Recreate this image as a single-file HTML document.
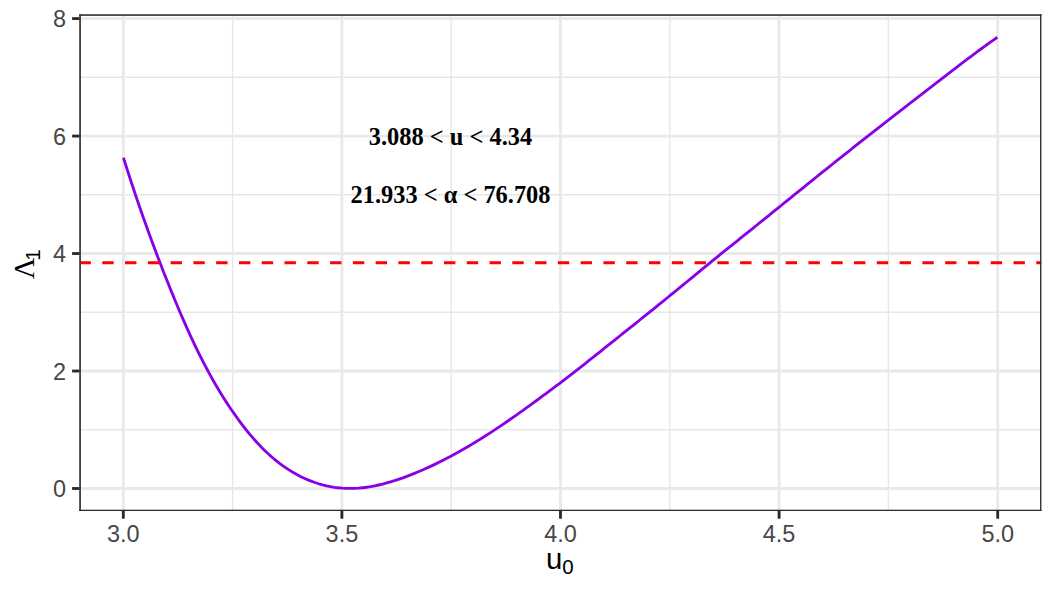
<!DOCTYPE html>
<html><head><meta charset="utf-8"><title>plot</title><style>html,body{margin:0;padding:0;background:#fff;font-family:"Liberation Sans",sans-serif}svg{display:block}</style></head><body>
<svg width="1056" height="595" viewBox="0 0 1056 595">
<rect width="1056" height="595" fill="#fff"/>
<clipPath id="cp"><rect x="79.6" y="14.67" width="961.90" height="496.33"/></clipPath>
<g clip-path="url(#cp)">
<g stroke="#e7e7e7" stroke-width="1.42">
<line x1="232.60" x2="232.60" y1="14.67" y2="511.0"/>
<line x1="451.20" x2="451.20" y1="14.67" y2="511.0"/>
<line x1="669.80" x2="669.80" y1="14.67" y2="511.0"/>
<line x1="888.40" x2="888.40" y1="14.67" y2="511.0"/>
<line y1="429.76" y2="429.76" x1="79.6" x2="1041.5"/>
<line y1="312.28" y2="312.28" x1="79.6" x2="1041.5"/>
<line y1="194.80" y2="194.80" x1="79.6" x2="1041.5"/>
<line y1="77.32" y2="77.32" x1="79.6" x2="1041.5"/>
</g><g stroke="#e9e9e9" stroke-width="2.85">
<line x1="123.30" x2="123.30" y1="14.67" y2="511.0"/>
<line x1="341.90" x2="341.90" y1="14.67" y2="511.0"/>
<line x1="560.50" x2="560.50" y1="14.67" y2="511.0"/>
<line x1="779.10" x2="779.10" y1="14.67" y2="511.0"/>
<line x1="997.70" x2="997.70" y1="14.67" y2="511.0"/>
<line y1="488.50" y2="488.50" x1="79.6" x2="1041.5"/>
<line y1="371.02" y2="371.02" x1="79.6" x2="1041.5"/>
<line y1="253.54" y2="253.54" x1="79.6" x2="1041.5"/>
<line y1="136.06" y2="136.06" x1="79.6" x2="1041.5"/>
<line y1="18.58" y2="18.58" x1="79.6" x2="1041.5"/>
</g>
<path d="M123.44,157.72L124.66,161.61L125.89,165.50L127.13,169.38L128.38,173.27L129.63,177.15L130.90,181.03L132.17,184.90L133.46,188.77L134.75,192.64L136.05,196.51L137.37,200.38L138.69,204.24L140.02,208.10L141.36,211.95L142.71,215.81L144.07,219.66L145.44,223.50L146.82,227.35L148.20,231.19L149.60,235.03L151.01,238.86L152.42,242.69L153.85,246.52L155.28,250.34L156.72,254.16L158.17,257.97L159.64,261.79L161.11,265.59L162.59,269.40L164.08,273.20L165.57,276.99L167.08,280.78L168.60,284.57L170.13,288.36L171.66,292.13L173.21,295.91L174.76,299.68L176.33,303.44L177.90,307.20L179.49,310.95L181.09,314.70L182.71,318.44L184.34,322.17L185.98,325.90L187.64,329.61L189.32,333.32L191.02,337.02L192.74,340.70L194.48,344.38L196.24,348.04L198.02,351.70L199.83,355.34L201.66,358.97L203.51,362.58L205.39,366.19L207.30,369.78L209.24,373.35L211.21,376.91L213.20,380.45L215.23,383.98L217.29,387.49L219.38,390.98L221.51,394.46L223.67,397.92L225.86,401.36L228.09,404.78L230.36,408.18L232.67,411.56L235.02,414.92L237.41,418.26L239.84,421.58L242.31,424.87L244.83,428.13L247.39,431.35L250.01,434.54L252.67,437.68L255.39,440.77L258.17,443.80L261.00,446.78L263.89,449.69L266.84,452.54L269.86,455.31L272.94,458.00L276.09,460.61L279.31,463.13L282.60,465.56L285.95,467.90L289.37,470.13L292.86,472.26L296.40,474.27L299.99,476.17L303.64,477.95L307.34,479.60L311.09,481.13L314.88,482.52L318.71,483.77L322.58,484.87L326.48,485.83L330.42,486.64L334.39,487.29L338.38,487.79L342.39,488.15L346.42,488.36L350.45,488.43L354.50,488.35L358.54,488.13L362.59,487.77L366.63,487.27L370.66,486.64L374.67,485.87L378.67,485.00L382.66,484.04L386.62,482.99L390.58,481.86L394.51,480.66L398.42,479.38L402.31,478.03L406.19,476.61L410.04,475.14L413.86,473.61L417.67,472.05L421.44,470.44L425.20,468.79L428.93,467.10L432.64,465.37L436.33,463.60L440.00,461.80L443.65,459.96L447.27,458.09L450.88,456.19L454.47,454.25L458.04,452.29L461.59,450.29L465.12,448.26L468.64,446.21L472.14,444.12L475.62,442.01L479.09,439.88L482.54,437.72L485.98,435.54L489.41,433.34L492.82,431.12L496.22,428.87L499.60,426.61L502.98,424.33L506.34,422.03L509.69,419.72L513.03,417.39L516.37,415.05L519.69,412.70L523.01,410.33L526.31,407.95L529.61,405.57L532.90,403.17L536.19,400.77L539.47,398.36L542.74,395.95L546.01,393.52L549.27,391.10L552.53,388.67L555.79,386.22L559.04,383.77L562.28,381.31L565.52,378.84L568.76,376.36L571.99,373.86L575.22,371.35L578.45,368.83L581.67,366.30L584.88,363.77L588.10,361.23L591.31,358.68L594.52,356.14L597.72,353.58L600.92,351.03L604.12,348.48L607.32,345.93L610.51,343.39L613.70,340.84L616.89,338.30L620.07,335.76L623.26,333.22L626.44,330.68L629.62,328.14L632.80,325.60L635.97,323.05L639.15,320.51L642.32,317.97L645.49,315.42L648.66,312.87L651.83,310.32L655.00,307.77L658.17,305.21L661.34,302.65L664.50,300.08L667.67,297.51L670.84,294.94L674.00,292.36L677.17,289.77L680.33,287.18L683.50,284.58L686.66,281.98L689.83,279.38L692.99,276.78L696.16,274.17L699.33,271.57L702.49,268.97L705.66,266.37L708.82,263.78L711.99,261.19L715.16,258.61L718.32,256.04L721.49,253.47L724.66,250.92L727.83,248.38L730.99,245.84L734.16,243.30L737.33,240.77L740.50,238.23L743.67,235.70L746.84,233.16L750.01,230.61L753.18,228.06L756.35,225.51L759.52,222.96L762.70,220.40L765.87,217.84L769.04,215.28L772.22,212.71L775.39,210.15L778.57,207.58L781.74,205.01L784.92,202.44L788.10,199.87L791.28,197.30L794.45,194.73L797.63,192.16L800.81,189.59L804.00,187.03L807.18,184.46L810.36,181.89L813.54,179.33L816.73,176.76L819.92,174.20L823.10,171.65L826.29,169.09L829.48,166.54L832.67,163.99L835.86,161.44L839.05,158.90L842.24,156.36L845.44,153.82L848.63,151.28L851.83,148.75L855.02,146.22L858.22,143.70L861.42,141.17L864.62,138.65L867.83,136.13L871.03,133.61L874.24,131.09L877.44,128.58L880.65,126.07L883.86,123.56L887.07,121.05L890.28,118.54L893.50,116.03L896.71,113.53L899.93,111.03L903.15,108.52L906.37,106.02L909.59,103.52L912.82,101.03L916.04,98.53L919.27,96.03L922.50,93.54L925.73,91.04L928.96,88.55L932.20,86.05L935.44,83.56L938.67,81.07L941.92,78.58L945.16,76.09L948.40,73.60L951.65,71.12L954.90,68.63L958.15,66.15L961.41,63.67L964.66,61.19L967.92,58.72L971.18,56.27L974.44,53.82L977.71,51.39L980.97,48.98L984.24,46.59L987.52,44.22L990.79,41.87L994.07,39.55L997.35,37.26" fill="none" stroke="#8a00e6" stroke-width="2.85" stroke-linejoin="round" stroke-linecap="butt"/>
<line x1="79.5" x2="1041.5" y1="262.7" y2="262.7" stroke="#ff0000" stroke-width="2.85" stroke-dasharray="11.39 11.39"/>
</g>
<g fill="#3b3b3b">
<rect x="79.2" y="14.2" width="1.75" height="496.8"/>
<rect x="79.2" y="14.2" width="962.2" height="1.7"/>
</g><g fill="#2e2e2e">
<rect x="1040.05" y="14.2" width="1.37" height="496.8"/>
<rect x="79.2" y="509.7" width="962.22" height="1.3"/>
</g>
<g stroke="#2a2a2a" stroke-width="2.85">
<line x1="123.30" x2="123.30" y1="511.0" y2="518.75"/>
<line x1="341.90" x2="341.90" y1="511.0" y2="518.75"/>
<line x1="560.50" x2="560.50" y1="511.0" y2="518.75"/>
<line x1="779.10" x2="779.10" y1="511.0" y2="518.75"/>
<line x1="997.70" x2="997.70" y1="511.0" y2="518.75"/>
<line y1="488.50" y2="488.50" x1="72.1" x2="79.6"/>
<line y1="371.02" y2="371.02" x1="72.1" x2="79.6"/>
<line y1="253.54" y2="253.54" x1="72.1" x2="79.6"/>
<line y1="136.06" y2="136.06" x1="72.1" x2="79.6"/>
<line y1="18.58" y2="18.58" x1="72.1" x2="79.6"/>
</g>
<g stroke="none" font-size="23.47" style="font-family:'Liberation Sans',sans-serif">
<g fill="#474747">
<text x="123.3" y="542" text-anchor="middle">3.0</text>
<text x="341.9" y="542" text-anchor="middle">3.5</text>
<text x="560.5" y="542" text-anchor="middle">4.0</text>
<text x="779.1" y="542" text-anchor="middle">4.5</text>
<text x="997.7" y="542" text-anchor="middle">5.0</text>
<text x="66" y="497.0" text-anchor="end">0</text>
<text x="66" y="379.5" text-anchor="end">2</text>
<text x="66" y="262.0" text-anchor="end">4</text>
<text x="66" y="144.6" text-anchor="end">6</text>
<text x="66" y="27.1" text-anchor="end">8</text>
</g>
<g fill="#000">
<text x="546" y="569.3" font-size="29.33">u<tspan font-size="20.53" dy="4.8">0</tspan></text>
<text transform="translate(34.1,279) rotate(-90)" font-size="29.33"><tspan style="font-family:'Liberation Serif',serif">Λ</tspan><tspan font-size="20.53" dy="5.5" dx="-3">1</tspan></text>
<text x="450.5" y="145" text-anchor="middle" font-size="24.4" font-weight="bold" style="font-family:'Liberation Serif',serif">3.088 &lt; u &lt; 4.34</text>
<text x="450.5" y="203" text-anchor="middle" font-size="24.4" font-weight="bold" style="font-family:'Liberation Serif',serif">21.933 &lt; α &lt; 76.708</text>
</g>
</g>
</svg></body></html>
